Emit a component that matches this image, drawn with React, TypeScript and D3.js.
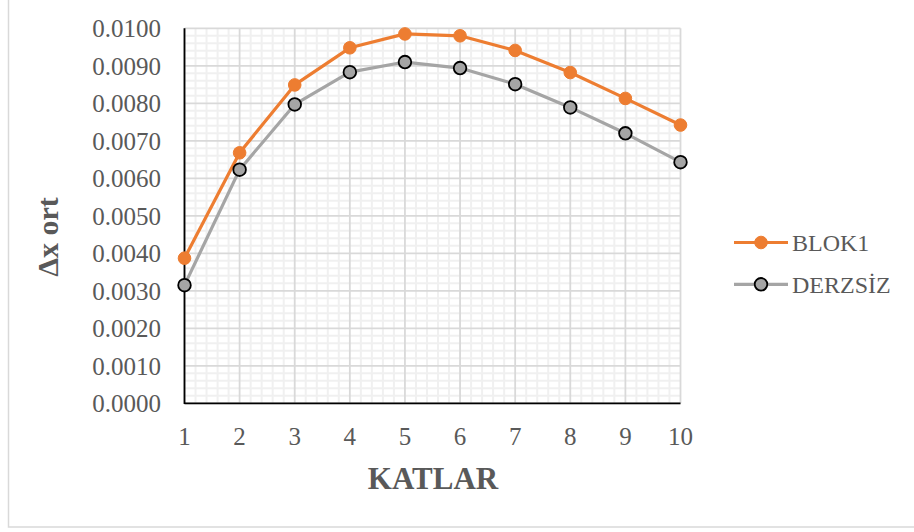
import React from "react";
import * as d3 from "d3";

const categories = [1, 2, 3, 4, 5, 6, 7, 8, 9, 10];
const blok1 = [0.00387, 0.00668, 0.00849, 0.00948, 0.00985, 0.0098, 0.00941, 0.00882, 0.00813, 0.00742];
const derzsiz = [0.00315, 0.00623, 0.00797, 0.00883, 0.0091, 0.00894, 0.00851, 0.00789, 0.0072, 0.00643];
const yTicks = [0, 0.001, 0.002, 0.003, 0.004, 0.005, 0.006, 0.007, 0.008, 0.009, 0.01];
const seriesNames = ["BLOK1", "DERZSİZ"];

const W = 914;
const H = 532;
const M = { left: 184.5, right: 680.5, top: 28.3, bottom: 403.3 };
const ORANGE = "#ED7D31";
const GREY = "#A5A5A5";
const TXT = "#595959";
const FONT = "'Liberation Serif', 'Times New Roman', serif";

export default function App() {
  const x = d3.scaleLinear().domain([1, 10]).range([M.left, M.right]);
  const y = d3.scaleLinear().domain([0, 0.01]).range([M.bottom, M.top]);

  const minorX: number[] = [];
  for (let i = 0; i < categories.length - 1; i++) {
    for (let k = 1; k < 5; k++) minorX.push(categories[i] + k / 5);
  }
  const minorY: number[] = [];
  for (let i = 0; i < yTicks.length - 1; i++) {
    for (let k = 1; k < 5; k++) minorY.push(yTicks[i] + (k * 0.001) / 5);
  }

  const line = d3
    .line<number>()
    .x((_, i) => x(categories[i]))
    .y((d) => y(d));

  const series = [
    { name: seriesNames[0], data: blok1, color: ORANGE, mFill: ORANGE, mStroke: ORANGE, mw: 1 },
    { name: seriesNames[1], data: derzsiz, color: GREY, mFill: GREY, mStroke: "#000", mw: 1.8 },
  ];

  return (
    <svg
      width={W}
      height={H}
      style={{ position: "absolute", left: 0, top: 0, background: "#fff" }}
      fontFamily={FONT}
    >
      <rect x={0} y={0} width={W} height={H} fill="#fff" />
      <rect x={8.5} y={-5} width={W + 10} height={532} fill="none" stroke="#d9d9d9" strokeWidth={1.5} />

      {/* minor grid */}
      {minorX.map((v, i) => (
        <line key={"mx" + i} x1={x(v)} x2={x(v)} y1={M.top} y2={M.bottom} stroke="#f0f0f0" strokeWidth={2} />
      ))}
      {minorY.map((v, i) => (
        <line key={"my" + i} x1={M.left} x2={M.right} y1={y(v)} y2={y(v)} stroke="#f0f0f0" strokeWidth={2} />
      ))}
      {/* major grid */}
      {categories.map((c) => (
        <line key={"gx" + c} x1={x(c)} x2={x(c)} y1={M.top} y2={M.bottom} stroke="#d9d9d9" strokeWidth={1.8} />
      ))}
      {yTicks.map((t) => (
        <line key={"gy" + t} x1={M.left} x2={M.right} y1={y(t)} y2={y(t)} stroke="#d9d9d9" strokeWidth={1.8} />
      ))}

      {/* axes */}
      <line x1={M.left} x2={M.left} y1={M.top} y2={M.bottom + 0.8} stroke="#000" strokeWidth={1.8} />
      <line x1={M.left} x2={M.right} y1={M.bottom} y2={M.bottom} stroke="#000" strokeWidth={1.8} />

      {/* tick labels */}
      {yTicks.map((t) => (
        <text key={"yt" + t} x={161} y={y(t)} dy="0.35em" textAnchor="end" fontSize={25} fill={TXT}>
          {d3.format(".4f")(t)}
        </text>
      ))}
      {categories.map((c) => (
        <text key={"xt" + c} x={x(c)} y={445} textAnchor="middle" fontSize={25} fill={TXT}>
          {c}
        </text>
      ))}

      {/* axis titles */}
      <text x={433} y={489} textAnchor="middle" fontSize={31} fontWeight="bold" fill={TXT}>
        KATLAR
      </text>
      <text
        transform={`translate(${58},${237}) rotate(-90)`}
        textAnchor="middle"
        fontSize={30}
        fontWeight="bold"
        fill={TXT}
      >
        Δx ort
      </text>

      {/* series */}
      {series.map((s) => (
        <g key={s.name}>
          <path d={line(s.data) || ""} fill="none" stroke={s.color} strokeWidth={3.2} strokeLinejoin="round" />
          {s.data.map((v, i) => (
            <circle key={i} cx={x(categories[i])} cy={y(v)} r={6.3} fill={s.mFill} stroke={s.mStroke} strokeWidth={s.mw} />
          ))}
        </g>
      ))}

      {/* legend */}
      {series.map((s, i) => {
        const ly = 242.5 + i * 41.8;
        return (
          <g key={"lg" + s.name}>
            <line x1={734} x2={788} y1={ly} y2={ly} stroke={s.color} strokeWidth={3.2} />
            <circle cx={761} cy={ly} r={6.3} fill={s.mFill} stroke={s.mStroke} strokeWidth={s.mw} />
            <text x={792} y={ly} dy="0.35em" fontSize={24} fill={TXT}>
              {s.name}
            </text>
          </g>
        );
      })}
    </svg>
  );
}
